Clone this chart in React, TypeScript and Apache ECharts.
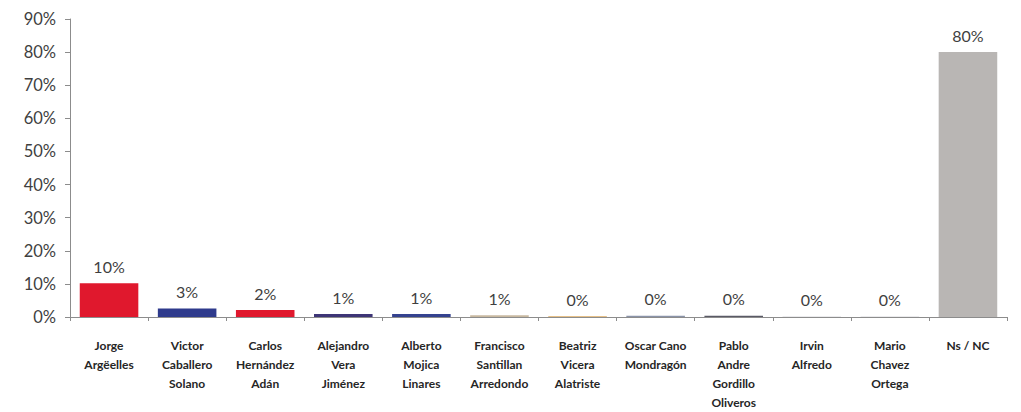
import React, { useEffect, useRef } from "react";
import * as echarts from "echarts";

const categories = [
  "Jorge\nArgëelles",
  "Victor\nCaballero\nSolano",
  "Carlos\nHernández\nAdán",
  "Alejandro\nVera\nJiménez",
  "Alberto\nMojica\nLinares",
  "Francisco\nSantillan\nArredondo",
  "Beatriz\nVicera\nAlatriste",
  "Oscar Cano\nMondragón",
  "Pablo\nAndre\nGordillo\nOliveros",
  "Irvin\nAlfredo",
  "Mario\nChavez\nOrtega",
  "Ns / NC",
];
const values = [10.2, 2.6, 2.1, 0.9, 0.9, 0.5, 0.3, 0.4, 0.4, 0.1, 0.1, 80];
const valueLabels = ["10%", "3%", "2%", "1%", "1%", "1%", "0%", "0%", "0%", "0%", "0%", "80%"];
const barColors = [
  "#e0182d", "#2e3a8c", "#e0182d", "#3d3576", "#34428f", "#c8b9a0",
  "#e6c088", "#8a93a8", "#5a5a66", "#b0b0b8", "#b0b0b8", "#b9b6b4",
];

export default function App() {
  const ref = useRef<HTMLDivElement>(null);
  useEffect(() => {
    document.body.style.margin = "0";
    const chart = echarts.init(ref.current!, null, { renderer: "svg", width: 1021, height: 412 });
    chart.setOption({
      animation: false,
      backgroundColor: "#ffffff",
      grid: { left: 70, right: 14, top: 19, bottom: 89, containLabel: false },
      xAxis: {
        type: "category",
        data: categories,
        axisLine: { lineStyle: { color: "#8c8c8c", width: 1 } },
        axisTick: { show: true, length: 4, lineStyle: { color: "#8c8c8c" } },
        axisLabel: {
          interval: 0,
          margin: 19,
          fontFamily: "Lato",
          fontWeight: "bold",
          fontSize: 12,
          lineHeight: 19,
          color: "#262626",
        },
      },
      yAxis: {
        type: "value",
        min: 0,
        max: 90,
        interval: 10,
        splitLine: { show: false },
        axisLine: { show: true, lineStyle: { color: "#8c8c8c" } },
        axisTick: { show: true, length: 5, lineStyle: { color: "#8c8c8c" } },
        axisLabel: {
          formatter: (v: number) => v + "%",
          fontFamily: "Lato",
          fontSize: 16.5,
          color: "#3f3f3f",
          margin: 14,
        },
      },
      series: [
        {
          type: "bar",
          barCategoryGap: "25%",
          data: values.map((v, i) => ({
            value: v,
            itemStyle: { color: barColors[i] },
          })),
          label: {
            show: true,
            position: "top",
            distance: 9,
            fontFamily: "Lato",
            fontSize: 16,
            color: "#3f3f3f",
            formatter: (p: any) => valueLabels[p.dataIndex],
          },
        },
      ],
    });
    return () => chart.dispose();
  }, []);
  return <div ref={ref} style={{ width: 1021, height: 412 }} />;
}
